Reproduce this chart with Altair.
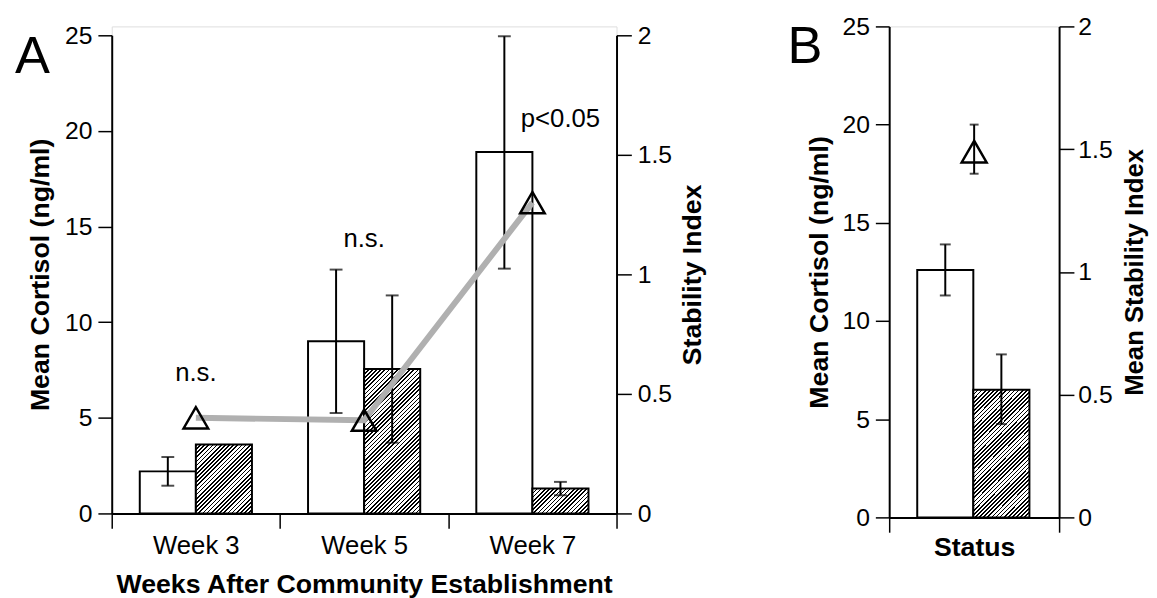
import altair as alt
import pandas as pd

FONT = "Liberation Sans"

# ---------------- data ----------------
weeks = ["Week 3", "Week 5", "Week 7"]
groups = ["open", "hatched"]

open_mean = [2.2, 9.0, 18.9]
open_lo = [1.45, 5.25, 12.8]
open_hi = [2.95, 12.75, 24.95]

hatched_mean = [3.6, 7.55, 1.3]
hatched_lo = [None, 3.7, 0.95]
hatched_hi = [None, 11.4, 1.65]

stability = [0.40, 0.39, 1.30]

ns_weeks = ["Week 3", "Week 5"]
ns_y = [7.35, 14.35]
p_weeks = ["Week 7"]
p_y = [20.6]

status = ["Status"]
b_open_mean = [12.6]
b_open_lo = [11.3]
b_open_hi = [13.9]
b_hatched_mean = [6.5]
b_hatched_lo = [4.75]
b_hatched_hi = [8.3]
b_stab = [1.49]
b_stab_lo = [1.40]
b_stab_hi = [1.60]

cort_ticks = [0, 5, 10, 15, 20, 25]
stab_ticks = [0, 0.5, 1, 1.5, 2]

# ---------------- tables ----------------
bars_a = pd.DataFrame({
    "week": weeks * 2,
    "group": ["open"] * 3 + ["hatched"] * 3,
    "mean": open_mean + hatched_mean,
    "lo": open_lo + hatched_lo,
    "hi": open_hi + hatched_hi,
})
err_a = bars_a.dropna()
stab_a = pd.DataFrame({"week": weeks, "stab": stability})
ns_df = pd.DataFrame({"week": ns_weeks, "y": ns_y, "label": ["n.s."] * 2})
p_df = pd.DataFrame({"week": p_weeks, "group": ["hatched"], "y": p_y, "label": ["p<0.05"]})

bars_b = pd.DataFrame({
    "status": status * 2,
    "group": ["open", "hatched"],
    "mean": b_open_mean + b_hatched_mean,
    "lo": b_open_lo + b_hatched_lo,
    "hi": b_open_hi + b_hatched_hi,
})
stab_b = pd.DataFrame({"status": status, "stab": b_stab, "lo": b_stab_lo, "hi": b_stab_hi})
one = pd.DataFrame({"k": [0]})

# ---------------- geometry ----------------
A_W, A_H, A_TOP = 511, 493, 9
B_W, B_H = 172, 497


def hatch_fill(w, h, period=4.2, ink=1.7):
    s = w + h
    c = s / (w * w + h * h)
    stops = []
    pos = 0.0
    while pos < s:
        a = pos / s
        b = min((pos + ink) / s, 1.0)
        stops += [(a, "#ffffff"), (a, "#000000"), (b, "#000000"), (b, "#ffffff")]
        pos += period
    stops.append((1.0, "#ffffff"))
    return alt.LinearGradient(
        gradient="linear", x1=0, y1=0, x2=c * w, y2=c * h,
        stops=[alt.GradientStop(offset=o, color=col) for o, col in stops],
    )


AX = dict(labelFont=FONT, labelColor="black",
          titleFont=FONT, titleFontWeight="bold", titleColor="black",
          tickColor="black", domainColor="black", domainWidth=2, tickWidth=1.5, grid=False)

# ---------------- panel A ----------------
xa = alt.X("week:N", scale=alt.Scale(domain=weeks, paddingInner=0, paddingOuter=0),
           axis=alt.Axis(tickBand="extent", tickSize=15, labelPadding=5, labelAngle=0,
                         labelFontSize=26, titleFontSize=27,
                         title="Weeks After Community Establishment", titlePadding=13, **AX))
xoff_a = alt.XOffset("group:N", scale=alt.Scale(domain=groups, paddingInner=0, paddingOuter=0.5))
ya_scale = alt.Scale(domain=[0, 25], range=[A_H, A_TOP], nice=False)
ya_axis = alt.Axis(values=cort_ticks, tickSize=14, labelPadding=6, labelFontSize=25,
                   titleFontSize=27, title="Mean Cortisol (ng/ml)", titlePadding=10, **AX)


def ya(field):
    return alt.Y(field, type="quantitative", scale=ya_scale, axis=ya_axis)


base_a = alt.Chart(bars_a)
open_a = base_a.transform_filter(alt.datum.group == "open").mark_bar(
    fill="white", stroke="black", strokeWidth=2).encode(x=xa, xOffset=xoff_a, y=ya("mean"))

px_a = (A_H - A_TOP) / 25.0
bw_a = A_W / 3 / 3
hatch_layers_a = []
for wk, m in zip(weeks, hatched_mean):
    hatch_layers_a.append(
        base_a.transform_filter((alt.datum.group == "hatched") & (alt.datum.week == wk))
        .mark_bar(fill=hatch_fill(bw_a, m * px_a), stroke="black", strokeWidth=2)
        .encode(x=xa, xOffset=xoff_a, y=ya("mean"))
    )

err_rule_a = alt.Chart(err_a).mark_rule(color="black", strokeWidth=2).encode(
    x=xa, xOffset=xoff_a, y=ya("lo"), y2="hi")
err_lo_a = alt.Chart(err_a).mark_tick(color="black", size=13, thickness=2).encode(
    x=xa, xOffset=xoff_a, y=ya("lo"))
err_hi_a = alt.Chart(err_a).mark_tick(color="black", size=13, thickness=2).encode(
    x=xa, xOffset=xoff_a, y=ya("hi"))

ns_text = alt.Chart(ns_df).mark_text(font=FONT, fontSize=26, color="black").encode(
    x=xa, y=ya("y"), text="label:N")
p_text = alt.Chart(p_df).mark_text(font=FONT, fontSize=26, color="black").encode(
    x=xa, xOffset=xoff_a, y=ya("y"), text="label:N")

letter_a = alt.Chart(one).mark_text(font=FONT, fontSize=53, color="black", align="left",
                                    baseline="alphabetic", text="A").encode(
    x=alt.value(-98), y=alt.value(47.5))

left_a = alt.layer(open_a, *hatch_layers_a, err_rule_a, err_lo_a, err_hi_a,
                   ns_text, p_text, letter_a)

ys_a = alt.Y("stab:Q", scale=alt.Scale(domain=[0, 2], range=[A_H, A_TOP], nice=False),
             axis=alt.Axis(orient="right", values=stab_ticks, format="~g", tickSize=15,
                           labelPadding=6, labelFontSize=25, titleFontSize=27,
                           title="Stability Index", titleAngle=270,
                           titleBaseline="top", titlePadding=8, **AX))
line_a = alt.Chart(stab_a).mark_line(color="#b0b0b0", strokeWidth=6).encode(x=xa, y=ys_a)
tri_a = alt.Chart(stab_a).mark_point(shape="triangle-up", filled=False, color="black",
                                     strokeWidth=2.5, size=620, opacity=1).encode(x=xa, y=ys_a)
right_a = alt.layer(line_a, tri_a)

panel_a = alt.layer(left_a, right_a).resolve_scale(y="independent").properties(
    width=A_W, height=A_H)

# ---------------- panel B ----------------
xb = alt.X("status:N", scale=alt.Scale(domain=status, paddingInner=0, paddingOuter=0),
           axis=alt.Axis(tickBand="extent", tickSize=15, labels=False, title="Status",
                         titleFontSize=27, titlePadding=2, **AX))
xoff_b = alt.XOffset("group:N", scale=alt.Scale(domain=groups, paddingInner=0, paddingOuter=0.5))
yb_scale = alt.Scale(domain=[0, 25], nice=False)
yb_axis = alt.Axis(values=cort_ticks, tickSize=14, labelPadding=6, labelFontSize=25,
                   titleFontSize=27, title="Mean Cortisol (ng/ml)", titlePadding=9, **AX)


def yb(field):
    return alt.Y(field, type="quantitative", scale=yb_scale, axis=yb_axis)


base_b = alt.Chart(bars_b)
open_b = base_b.transform_filter(alt.datum.group == "open").mark_bar(
    fill="white", stroke="black", strokeWidth=2).encode(x=xb, xOffset=xoff_b, y=yb("mean"))
px_b = B_H / 25.0
hatch_b = base_b.transform_filter(alt.datum.group == "hatched").mark_bar(
    fill=hatch_fill(B_W / 3, b_hatched_mean[0] * px_b), stroke="black", strokeWidth=2).encode(
    x=xb, xOffset=xoff_b, y=yb("mean"))
err_rule_b = base_b.mark_rule(color="black", strokeWidth=2).encode(
    x=xb, xOffset=xoff_b, y=yb("lo"), y2="hi")
err_lo_b = base_b.mark_tick(color="black", size=11, thickness=2).encode(
    x=xb, xOffset=xoff_b, y=yb("lo"))
err_hi_b = base_b.mark_tick(color="black", size=11, thickness=2).encode(
    x=xb, xOffset=xoff_b, y=yb("hi"))
letter_b = alt.Chart(one).mark_text(font=FONT, fontSize=53, color="black", align="left",
                                    baseline="alphabetic", text="B").encode(
    x=alt.value(-103), y=alt.value(37.5))
left_b = alt.layer(open_b, hatch_b, err_rule_b, err_lo_b, err_hi_b, letter_b)

ys_b_scale = alt.Scale(domain=[0, 2], nice=False)
ys_b_axis = alt.Axis(orient="right", values=stab_ticks, format="~g", tickSize=15,
                     labelPadding=4, labelFontSize=25, titleFontSize=26,
                     title="Mean Stability Index", titleAngle=270,
                     titleBaseline="top", titlePadding=10, **AX)
tri_b = alt.Chart(stab_b).mark_point(shape="triangle-up", filled=False, color="black",
                                     strokeWidth=2.5, size=640, opacity=1).encode(
    x=xb, y=alt.Y("stab:Q", scale=ys_b_scale, axis=ys_b_axis))
tri_err_b = alt.Chart(stab_b).mark_rule(color="black", strokeWidth=2).encode(
    x=xb, y=alt.Y("lo:Q", scale=ys_b_scale, axis=ys_b_axis), y2="hi")
tri_lo_b = alt.Chart(stab_b).mark_tick(color="black", size=9, thickness=2).encode(
    x=xb, y=alt.Y("lo:Q", scale=ys_b_scale, axis=ys_b_axis))
tri_hi_b = alt.Chart(stab_b).mark_tick(color="black", size=9, thickness=2).encode(
    x=xb, y=alt.Y("hi:Q", scale=ys_b_scale, axis=ys_b_axis))
right_b = alt.layer(tri_err_b, tri_lo_b, tri_hi_b, tri_b)

panel_b = alt.layer(left_b, right_b).resolve_scale(y="independent").properties(
    width=B_W, height=B_H)

chart = alt.hconcat(panel_a, panel_b, spacing=276, bounds="flush").properties(
    padding={"left": 6, "top": 2, "right": 0, "bottom": 0}
).configure_view(strokeWidth=0).configure(background="white")

chart.save("out.html", embed_options={"renderer": "svg", "actions": False})
